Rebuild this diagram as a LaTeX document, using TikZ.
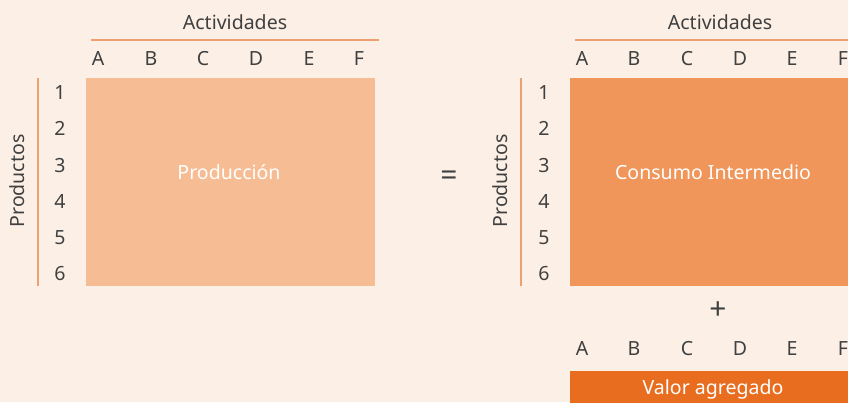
\documentclass[tikz,border=0pt]{standalone}
\usepackage{fontspec}
\setmainfont{Noto Sans}
\definecolor{bg}{HTML}{FCF0E6}
\definecolor{prod}{HTML}{F6BD94}
\definecolor{cons}{HTML}{F0965A}
\definecolor{valor}{HTML}{E96D1F}
\definecolor{rule}{HTML}{F0A070}
\definecolor{txt}{HTML}{404040}
\begin{document}
\begin{tikzpicture}[x=1bp,y=-1bp,
  lbl/.style={text=txt,font=\fontsize{19.6}{21}\selectfont,inner sep=0pt,anchor=center,text height=14bp,text depth=0bp},
  inlbl/.style={text=white,font=\fontsize{19.6}{21}\selectfont,inner sep=0pt},
  sym/.style={text=txt,font=\bfseries\fontsize{30}{32}\selectfont,inner sep=0pt,anchor=center},
  rulel/.style={draw=rule,line width=1.5bp}]
\useasboundingbox (0,0) rectangle (848,402);
\fill[bg] (0,0) rectangle (848,402);
\clip (0,0) rectangle (848,402);
% left panel
\node[lbl] (actL) at (235,22) {Actividades};
\coordinate (tl1) at (91,40); \coordinate (tl2) at (379,40);
\draw[rulel] (tl1) -- (tl2);
\foreach \l/\x in {A/98,B/151,C/203,D/256,E/309,F/359}
  \node[lbl] (colL\l) at (\x,58) {\l};
\foreach \n/\y in {1/92,2/128,3/165,4/201,5/237,6/273}
  \node[lbl] (rowL\n) at (60,\y) {\n};
\coordinate (vl1) at (38,78); \coordinate (vl2) at (38,286);
\draw[rulel] (vl1) -- (vl2);
\node[lbl,rotate=90,text height=,text depth=] (prodL) at (17,181) {Productos};
\fill[prod] (86,78) rectangle (375,286);
\node[inlbl] (produccion) at (229,172) {Producción};
% equals
\node[sym] (eq) at (449,178) {=};
% right panel
\node[lbl] (actR) at (720,22) {Actividades};
\coordinate (tr1) at (575,40); \coordinate (tr2) at (850,40);
\draw[rulel] (tr1) -- (tr2);
\foreach \l/\x in {A/582,B/634,C/687,D/740,E/792,F/843}
  \node[lbl] (colR\l) at (\x,58) {\l};
\foreach \n/\y in {1/92,2/128,3/165,4/201,5/237,6/273}
  \node[lbl] (rowR\n) at (544,\y) {\n};
\coordinate (vr1) at (521,78); \coordinate (vr2) at (521,286);
\draw[rulel] (vr1) -- (vr2);
\node[lbl,rotate=90,text height=,text depth=] (prodR) at (500,181) {Productos};
\fill[cons] (570,78) rectangle (850,286);
\node[inlbl] (consumo) at (713,172) {Consumo Intermedio};
% plus
\node[sym] (plus) at (718,311) {+};
\foreach \l/\x in {A/582,B/634,C/687,D/740,E/792,F/843}
  \node[lbl] (colV\l) at (\x,348) {\l};
\fill[valor] (570,371) rectangle (850,404);
\node[inlbl] (valoragr) at (713,389) {Valor agregado};
\end{tikzpicture}
\end{document}
